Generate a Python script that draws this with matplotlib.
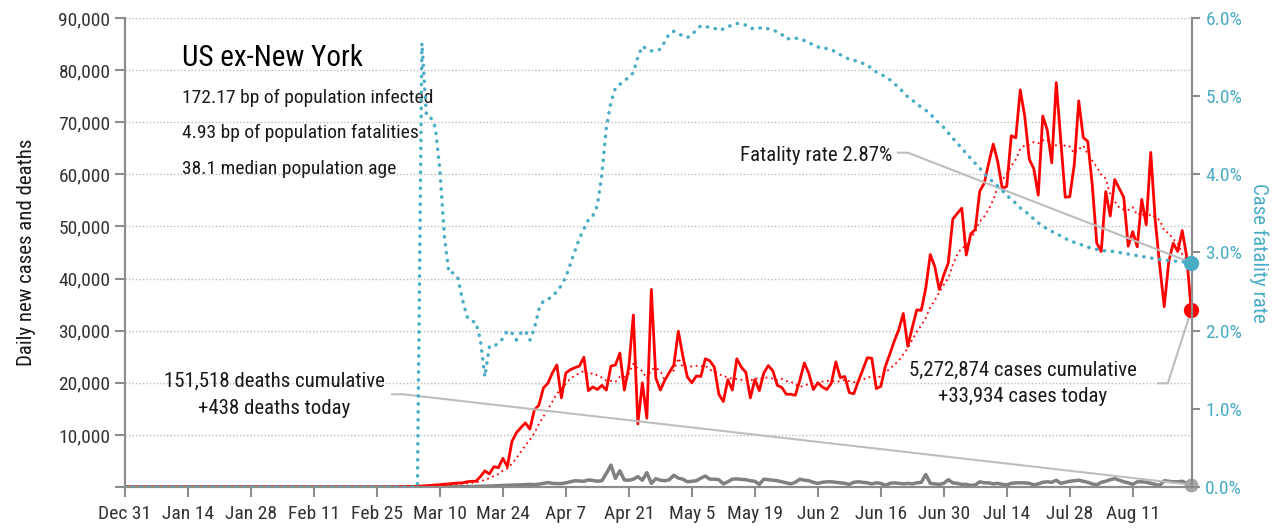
import numpy as np
import pandas as pd
import matplotlib
matplotlib.use("Agg")
import matplotlib.pyplot as plt

plt.rcParams['font.family'] = ['Roboto Condensed', 'DejaVu Sans']

# daily data, Dec 31 2019 .. Aug 24 2020 (values before the lists start are zero)
new_cases = [
    50, 60, 80, 100, 120, 150, 200, 250, 300, 400,
    450, 550, 600, 700, 750, 800, 1000, 1100, 1100, 2000,
    3100, 2500, 3900, 3700, 5500, 3900, 8700, 10400, 11400, 12300,
    11100, 14800, 15700, 19000, 19900, 21900, 23400, 17100, 21900, 22500,
    22900, 23200, 24900, 18500, 19200, 18700, 19500, 18600, 23200, 23400,
    25700, 18600, 23100, 33000, 12100, 20000, 13200, 37900, 20900, 18600,
    20500, 22000, 23400, 29900, 25100, 21100, 20000, 21300, 21200, 24600,
    24200, 23000, 17800, 16400, 20600, 18600, 24600, 23000, 22000, 17100,
    20600, 18500, 21900, 23300, 22300, 19500, 19100, 17800, 17800, 17600,
    20500, 23800, 21800, 18700, 20000, 19200, 18700, 19900, 24000, 21000,
    21200, 18100, 17900, 20300, 22500, 24800, 24700, 18900, 19300, 23100,
    25500, 28000, 30200, 33300, 27000, 30600, 34000, 33900, 38200, 44600,
    42300, 37900, 40700, 43000, 51400, 52500, 53500, 44500, 48600, 49400,
    56800, 58300, 62200, 65800, 62400, 57300, 57700, 67400, 67000, 76200,
    71100, 62900, 61100, 56000, 71200, 68500, 62200, 77600, 66600, 55600,
    55700, 61800, 74100, 67100, 66300, 58000, 46800, 45200, 56700, 52000,
    59000, 57300, 55600, 46200, 49000, 46100, 55200, 50300, 64200, 51200,
    42500, 34600, 43200, 46800, 45200, 49200, 44200, 33934,
]

new_deaths = [
    0, 1, 2, 3, 5, 6, 8, 10, 12, 15,
    20, 25, 30, 40, 50, 60, 80, 100, 120, 150,
    180, 220, 260, 300, 330, 350, 380, 420, 450, 500,
    450, 550, 700, 850, 700, 650, 650, 800, 1000, 1200,
    1150, 1100, 1350, 1250, 1100, 1200, 2600, 4200, 1660, 3100,
    1340, 1300, 1500, 1980, 1300, 2750, 700, 1600, 1300, 1200,
    1400, 2250, 1700, 1500, 1000, 1100, 1200, 1700, 2100, 1500,
    1500, 1400, 600, 1000, 1500, 1550, 1450, 1400, 1200, 1100,
    500, 1500, 1400, 1300, 1200, 1000, 800, 600, 900, 1500,
    1300, 1200, 900, 700, 900, 1000, 1000, 900, 800, 700,
    500, 900, 1000, 900, 800, 600, 800, 700, 300, 700,
    800, 700, 600, 700, 600, 800, 900, 2400, 700, 600,
    500, 700, 1400, 800, 700, 500, 500, 300, 400, 1000,
    800, 800, 600, 700, 500, 400, 700, 800, 800, 800,
    700, 400, 600, 900, 1000, 900, 1300, 700, 900, 1100,
    1200, 1300, 1100, 900, 600, 400, 900, 1100, 1400, 1600,
    1300, 1000, 800, 500, 1000, 1000, 900, 700, 500, 300,
    1200, 1100, 1000, 1000, 1100, 700, 438,
]

# case fatality rate (%), from Mar 5
cfr = [
    0.0, 5.68, 4.75, 4.72, 4.6, 4.05, 3.2, 2.74, 2.74, 2.67,
    2.4, 2.18, 2.12, 2.11, 1.88, 1.41, 1.8, 1.8, 1.84, 1.9,
    2.0, 1.97, 1.88, 1.97, 2.0, 1.88, 2.03, 2.27, 2.38, 2.4,
    2.44, 2.5, 2.58, 2.69, 2.85, 3.02, 3.18, 3.3, 3.42, 3.47,
    3.6, 4.0, 4.6, 4.92, 5.1, 5.15, 5.2, 5.24, 5.3, 5.5,
    5.64, 5.6, 5.58, 5.58, 5.6, 5.7, 5.8, 5.83, 5.8, 5.77,
    5.75, 5.78, 5.85, 5.9, 5.89, 5.88, 5.87, 5.84, 5.86, 5.89,
    5.91, 5.93, 5.92, 5.91, 5.87, 5.86, 5.87, 5.88, 5.86, 5.85,
    5.82, 5.79, 5.73, 5.74, 5.74, 5.74, 5.71, 5.68, 5.66, 5.63,
    5.61, 5.61, 5.6, 5.56, 5.53, 5.5, 5.47, 5.46, 5.44, 5.42,
    5.4, 5.35, 5.31, 5.28, 5.25, 5.21, 5.16, 5.11, 5.05, 4.99,
    4.95, 4.9, 4.86, 4.82, 4.77, 4.71, 4.65, 4.6, 4.53, 4.46,
    4.4, 4.33, 4.27, 4.2, 4.14, 4.08, 4.01, 3.95, 3.9, 3.85,
    3.79, 3.73, 3.68, 3.63, 3.57, 3.53, 3.48, 3.43, 3.38, 3.34,
    3.3, 3.27, 3.25, 3.21, 3.18, 3.15, 3.13, 3.11, 3.09, 3.07,
    3.05, 3.04, 3.03, 3.02, 3.02, 3.01, 3.0, 2.99, 2.98, 2.97,
    2.96, 2.95, 2.94, 2.93, 2.92, 2.91, 2.9, 2.9, 2.89, 2.89,
    2.88, 2.88, 2.87,
]

tick_labels = ['Dec 31', 'Jan 14', 'Jan 28', 'Feb 11', 'Feb 25', 'Mar 10', 'Mar 24',
               'Apr 7', 'Apr 21', 'May 5', 'May 19', 'Jun 2', 'Jun 16', 'Jun 30',
               'Jul 14', 'Jul 28', 'Aug 11']

title = 'US ex-New York'
stats = ['172.17 bp of population infected',
         '4.93 bp of population fatalities',
         '38.1 median population age']

n_days = 238
def pad(v):
    return np.array([0] * (n_days - len(v)) + list(v), dtype=float)

cases = pad(new_cases)
deaths = pad(new_deaths)
rate = pad(cfr)
days = np.arange(n_days)
cases_avg = pd.Series(cases).rolling(7, min_periods=1).mean()

RED = '#FF0000'
BLUE = '#4BACC6'
GREY = '#808080'
TXT = '#1a1a1a'
LINE = '#BDBDBD'

fig = plt.figure(figsize=(12.78, 5.29), dpi=100)
ax = fig.add_axes([0.0978, 0.0794, 0.835, 0.8866])
ax2 = ax.twinx()

ax.set_xlim(0, 237.2)
ax.set_ylim(0, 90000)
ax2.set_ylim(0, 6.0)

ax.set_yticks(np.arange(0, 90001, 10000))
ax.set_yticklabels([''] + ['{:,}'.format(v) for v in range(10000, 90001, 10000)])
ax.set_xticks(np.arange(0, 225, 14))
ax.set_xticklabels(tick_labels)
ax2.set_yticks(np.arange(0, 6.01, 1.0))
ax2.set_yticklabels(['{:.1f}%'.format(v) for v in np.arange(0, 6.01, 1.0)])

for g in range(10000, 90001, 10000):
    ax.axhline(g, color='#BBBBBB', lw=1.0, ls=(0, (1, 1.5)), zorder=0)

for a in (ax, ax2):
    a.spines['top'].set_visible(False)
    for s in ('left', 'right', 'bottom'):
        a.spines[s].set_color('#8c8c8c')
        a.spines[s].set_linewidth(1.5)
ax.tick_params(axis='both', colors='#8c8c8c', width=1.5, length=7, labelcolor='#333333', labelsize=14)
ax.tick_params(axis='x', pad=6)
ax2.tick_params(axis='y', colors='#8c8c8c', width=1.5, length=6, labelcolor=BLUE, labelsize=14)

ax.set_ylabel('Daily new cases and deaths', fontsize=15, color=TXT, labelpad=16)
ax2.set_ylabel('Case fatality rate', fontsize=15, color=BLUE, rotation=270, labelpad=19)

# series
ax.plot(days, deaths, color=GREY, lw=2.5, zorder=3)
ax.plot(days, cases_avg, color=RED, lw=1.3, ls=(0, (1, 2)), zorder=3)
ax.plot(days, cases, color=RED, lw=2.0, zorder=4)
ax2.plot(days, rate, color=BLUE, lw=2.5, ls=(0, (0.1, 2.2)), dash_capstyle='round', zorder=3)

ax.plot(days[-1], deaths[-1], 'o', color='#A6A6A6', ms=9, zorder=6, clip_on=False)
ax.plot(days[-1], cases[-1], 'o', color=RED, ms=10, zorder=6, clip_on=False)
ax2.plot(days[-1], rate[-1], 'o', color=BLUE, ms=10, zorder=6, clip_on=False)

# text block
ax.text(12.7, 82300, title, fontsize=21, color='black', va='center', ha='left')
for i, s in enumerate(stats):
    ax.text(12.7, 74650 - i * 6800, s, fontsize=14, color=TXT, va='center', ha='left')

scale = 90000 / 6.0
# fatality rate callout
ax.text(170.5, 63700, 'Fatality rate {:.2f}%'.format(rate[-1]), fontsize=15, color=TXT,
        ha='right', va='center')
ax.plot([171.8, 174, days[-1]], [64150, 64150, rate[-1] * scale], color=LINE, lw=1.5, zorder=5)

# cases callout
ax.text(199.5, 22450, '{:,} cases cumulative'.format(5272874), fontsize=15, color=TXT,
        ha='center', va='center')
ax.text(199.5, 17460, '+{:,} cases today'.format(int(cases[-1])), fontsize=15, color=TXT,
        ha='center', va='center')
ax.plot([229.6, 231.8, days[-1]], [19900, 19900, cases[-1]], color=LINE, lw=1.5, zorder=5)

# deaths callout
ax.text(33.2, 20200, '{:,} deaths cumulative'.format(151518), fontsize=15, color=TXT,
        ha='center', va='center')
ax.text(33.2, 14970, '+{:,} deaths today'.format(int(deaths[-1])), fontsize=15, color=TXT,
        ha='center', va='center')
ax.plot([59.3, 61.8, days[-1]], [17790, 17790, deaths[-1]], color=LINE, lw=1.5, zorder=5)

fig.savefig('out.png', dpi=100)
